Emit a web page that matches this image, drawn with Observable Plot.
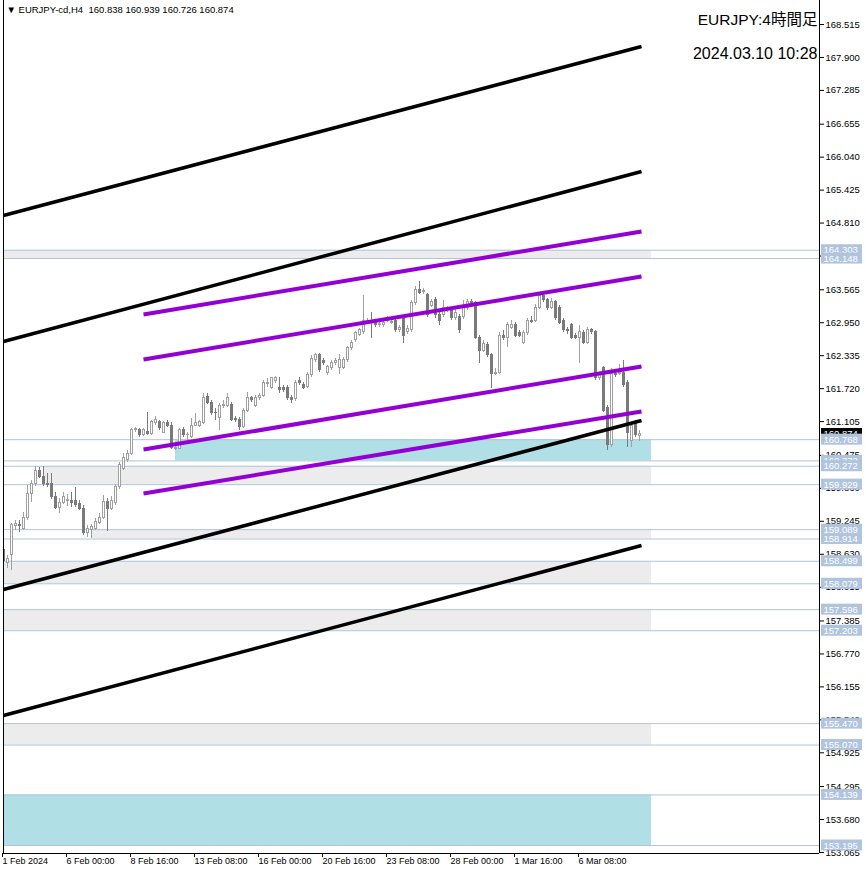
<!DOCTYPE html>
<html><head><meta charset="utf-8">
<script src="https://cdn.jsdelivr.net/npm/d3@7"></script>
<script src="https://cdn.jsdelivr.net/npm/@observablehq/plot@0.6"></script>
<style>html,body{margin:0;padding:0;background:#fff} svg{display:block}</style>
</head><body><div id="chart"></div>
<script>
// ---- data (H4 bars, index 0 = 1 Feb 2024 08:00) ----
const opens = [158.70,158.47,158.61,159.15,159.17,159.11,159.30,159.76,159.95,160.19,160.08,159.95,159.95,159.69,159.50,159.59,159.63,159.63,159.63,159.56,
159.48,159.02,159.09,159.11,159.22,159.31,159.61,159.48,159.58,159.88,160.23,160.38,160.51,160.94,160.94,160.86,160.92,160.88,161.07,161.09,
160.90,161.07,161.03,160.59,160.60,160.94,160.85,160.81,161.03,161.03,161.07,161.57,161.46,161.27,161.18,161.39,161.40,161.42,161.16,161.14,
161.01,161.31,161.54,161.40,161.54,161.59,161.80,161.74,161.87,161.74,161.74,161.74,161.55,161.52,161.87,161.78,161.76,161.97,162.25,162.34,
162.23,162.02,162.10,162.19,162.10,162.11,162.25,162.47,162.62,162.73,162.77,162.95,162.95,162.95,162.90,162.90,162.99,162.95,162.99,162.81,
163.03,162.77,162.81,163.31,163.57,163.53,163.46,163.27,163.37,163.09,163.09,163.18,163.18,163.03,163.05,163.05,163.22,163.33,163.31,162.67,
162.43,162.53,162.34,162.00,162.02,162.71,162.67,162.86,162.90,162.75,162.58,162.75,162.99,162.99,163.23,163.44,163.37,163.23,163.33,163.22,
162.99,162.81,162.90,162.71,162.66,162.75,162.58,162.81,162.77,161.91,162.10,161.35,160.66,162.00,162.00,162.02,161.82,160.75,161.07,160.838];
const highs = [158.79,158.61,159.20,159.26,159.26,159.41,159.91,160.01,160.27,160.25,160.27,160.14,160.14,159.78,159.67,159.78,159.74,159.78,159.88,159.63,
159.54,159.17,159.19,159.30,159.39,159.73,159.67,159.71,159.93,160.34,160.51,160.57,160.98,160.99,160.98,160.98,161.27,161.13,161.20,161.13,
161.11,161.13,161.09,160.66,160.98,160.99,160.90,161.16,161.26,161.13,161.63,161.63,161.50,161.35,161.44,161.50,161.63,161.46,161.20,161.18,
161.35,161.65,161.57,161.59,161.63,161.87,161.91,161.93,161.95,161.93,161.78,161.78,161.59,161.87,161.93,161.83,162.02,162.34,162.38,162.38,
162.28,162.15,162.25,162.28,162.36,162.30,162.51,162.62,162.79,162.84,163.46,163.03,163.14,162.99,162.97,163.01,163.07,163.01,163.03,162.90,
163.09,162.90,163.37,163.63,163.72,163.59,163.50,163.38,163.42,163.14,163.37,163.25,163.23,163.20,163.10,163.37,163.38,163.38,163.35,162.71,
162.62,162.58,162.38,162.10,162.77,162.81,162.95,162.99,162.95,162.81,162.81,163.03,163.07,163.29,163.51,163.50,163.40,163.40,163.37,163.27,
163.03,162.86,162.94,162.75,162.90,162.81,162.86,162.84,162.81,162.02,162.13,161.40,162.10,162.08,162.17,162.25,161.87,161.09,161.13,160.939];
const lows = [158.37,158.37,158.33,159.07,159.03,159.07,159.26,159.59,159.89,160.04,159.89,159.88,159.65,159.46,159.39,159.56,159.52,159.50,159.50,159.45,
158.98,158.94,158.92,159.07,159.19,159.28,159.05,159.45,159.54,159.84,160.19,160.34,160.47,160.90,160.81,160.83,160.85,160.85,161.03,160.94,
160.88,160.99,160.59,160.57,160.59,160.81,160.75,160.79,161.01,160.99,161.05,161.42,161.22,161.13,160.94,161.35,161.37,161.11,161.09,160.94,
160.98,161.27,161.46,161.37,161.50,161.55,161.74,161.70,161.82,161.63,161.65,161.50,161.44,161.48,161.78,161.70,161.72,161.93,162.21,162.02,
162.15,161.97,162.06,162.15,161.98,162.08,162.21,162.43,162.58,162.69,162.73,162.92,162.66,162.86,162.86,162.86,162.95,162.92,162.77,162.77,
162.56,162.73,162.77,163.27,163.48,163.48,163.05,163.23,163.03,162.90,163.05,163.14,162.99,162.99,162.75,163.01,163.18,163.25,162.64,162.19,
162.39,162.30,161.72,161.97,161.98,162.62,162.49,162.82,162.67,162.67,162.54,162.71,162.94,162.95,163.20,163.33,163.18,163.20,162.99,162.92,
162.77,162.73,162.64,162.64,162.19,162.54,162.54,162.73,161.87,161.87,161.27,160.57,160.62,161.93,161.97,161.74,160.62,160.62,160.81,160.726];
const closes = [158.51,158.55,159.17,159.20,159.15,159.31,159.76,159.95,160.19,160.08,159.95,159.93,159.69,159.50,159.59,159.69,159.65,159.59,159.54,159.48,
159.02,159.11,159.13,159.24,159.31,159.61,159.48,159.63,159.88,160.29,160.42,160.51,160.94,160.96,160.85,160.94,160.88,161.09,161.13,160.99,
161.07,161.03,160.62,160.62,160.94,160.85,160.86,161.03,161.07,161.09,161.55,161.46,161.26,161.26,161.40,161.42,161.54,161.14,161.13,161.01,
161.31,161.54,161.50,161.54,161.59,161.82,161.83,161.91,161.91,161.69,161.69,161.54,161.50,161.83,161.83,161.74,161.97,162.28,162.34,162.06,
162.19,162.13,162.19,162.23,162.25,162.25,162.47,162.58,162.75,162.81,162.99,162.99,162.94,162.90,162.92,162.95,163.03,162.97,162.81,162.86,
162.71,162.84,163.31,163.57,163.51,163.55,163.09,163.33,163.09,162.99,163.23,163.20,163.03,163.14,162.81,163.22,163.33,163.31,162.67,162.43,
162.56,162.34,162.00,162.02,162.71,162.66,162.90,162.90,162.71,162.71,162.75,162.99,162.97,163.23,163.44,163.37,163.22,163.33,163.03,162.95,
162.81,162.79,162.67,162.67,162.77,162.58,162.81,162.77,161.91,161.97,161.31,160.66,162.00,161.98,162.02,161.78,160.90,161.03,160.85,160.874];

const xTickBars = [0,16,32,48,64,80,96,112,128,144];
const xTickLabels = ["1 Feb 2024","6 Feb 00:00","8 Feb 16:00","13 Feb 08:00","16 Feb 00:00","20 Feb 16:00","23 Feb 08:00","28 Feb 00:00","1 Mar 16:00","6 Mar 08:00"];
const yTicks = [168.515,167.900,167.285,166.655,166.040,165.425,164.810,164.195,163.565,162.950,162.335,161.720,161.105,160.475,159.860,159.245,158.630,158.015,157.385,156.770,156.155,155.540,154.925,154.295,153.680,153.065];

// horizontal price levels (labelled on the price scale)
const levels = [164.303,164.148,160.768,160.372,160.272,159.929,159.089,158.914,158.499,158.079,157.596,157.203,155.470,155.070,154.139,153.195];

// rectangles (zones)
const zoneLow   = [164.148,160.372,159.929,158.914,158.079,157.203,155.070,153.195];
const zoneHigh  = [164.303,160.768,160.272,159.089,158.499,157.596,155.470,154.139];
const zoneStart = [0,43,10,22,0,0,0,0];
const zoneEnd   = [162,162,162,162,162,162,162,162];
const zoneKind  = ["gray","cyan","gray","gray","gray","gray","gray","cyan"];

// trend lines (bar index, price)
const tlStartBar   = [0,0,0,0,35,35,35,35];
const tlStartPrice = [164.951,162.600,157.972,155.621,163.104,162.264,160.584,159.764];
const tlEndBar     = [159.5,159.5,159.5,159.5,159.5,159.5,159.5,159.5];
const tlEndPrice   = [168.105,165.772,161.125,158.793,164.653,163.813,162.133,161.294];
const tlKind       = ["black","black","black","black","purple","purple","purple","purple"];

const symbolName = "EURJPY-cd,H4";
const titleText = "EURJPY:4時間足";
const stampText = "2024.03.10 10:28";

// ---- build ----
const bars = opens.map((o, i) => ({i, open: o, high: highs[i], low: lows[i], close: closes[i], up: closes[i] >= o}));
const zones = zoneLow.map((l, k) => ({low: l, high: zoneHigh[k], start: zoneStart[k], end: zoneEnd[k], kind: zoneKind[k]}));
const tlines = tlStartBar.map((b, k) => ({x1: b, y1: tlStartPrice[k], x2: tlEndBar[k], y2: tlEndPrice[k], kind: tlKind[k]}));
const last = bars[bars.length - 1];

const zoneColor = {gray: "#ececec", cyan: "#b0e0e6"};
const lineColor = {black: "#000000", purple: "#9400d3"};
const lineWidth = {black: 3.5, purple: 4};
const upColor = "#a0a0a0", downColor = "#7a7a7a";
const xMax = 204;
const fmt = d => d.toFixed(3);

const boxMarks = (vals, fill, color) => [
  Plot.rect(vals, {x1: xMax, x2: xMax, y1: d => d, y2: d => d, insetLeft: 2, insetRight: -43, insetTop: -5.5, insetBottom: -5.5, fill}),
  Plot.text(vals, {x: xMax, y: d => d, text: fmt, textAnchor: "start", dx: 4, fill: color, fontSize: 9.5})
];

const header = "▼ " + symbolName + "\u00a0\u00a0" + [last.open, last.high, last.low, last.close].map(fmt).join(" ");

const chart = Plot.plot({
  width: 866, height: 874,
  marginLeft: 3, marginRight: 47, marginTop: 0, marginBottom: 21,
  x: {domain: [0, xMax]},
  y: {domain: [153.046, 168.963]},
  color: {type: "identity"},
  style: {fontFamily: "'Liberation Sans', Arial, 'Noto Sans CJK JP', sans-serif", fontSize: "9.5px", background: "#fff", color: "#000", overflow: "visible"},
  marks: [
    Plot.rect(zones, {x1: "start", x2: "end", y1: "low", y2: "high", fill: d => zoneColor[d.kind], clip: true}),
    Plot.ruleY(levels, {stroke: "#b0c4de", strokeWidth: 1}),
    Plot.ruleX(bars, {x: "i", y1: "low", y2: "high", stroke: d => d.up ? upColor : downColor, clip: true, shapeRendering: "crispEdges"}),
    Plot.rect(bars, {x1: d => d.i - 0.25, x2: d => d.i + 0.25, y1: "open", y2: "close",
      fill: d => d.up ? "#ffffff" : downColor, stroke: d => d.up ? upColor : downColor, strokeWidth: 1, clip: true, shapeRendering: "crispEdges"}),
    Plot.link(tlines, {x1: "x1", y1: "y1", x2: "x2", y2: "y2", stroke: d => lineColor[d.kind], strokeWidth: d => lineWidth[d.kind], clip: true}),
    Plot.ruleX([0, xMax], {stroke: "#000", strokeWidth: 1}),
    Plot.ruleY([153.046], {stroke: "#000", strokeWidth: 1}),
    Plot.axisY({anchor: "right", ticks: yTicks, tickFormat: fmt, tickSize: 4, tickPadding: 2, label: null, fontSize: 9.5}),
    Plot.axisX({ticks: xTickBars, tickFormat: d => xTickLabels[xTickBars.indexOf(d)], tickSize: 4, tickPadding: 0, textAnchor: "start", dx: -1, label: null, fontSize: 9}),
    ...boxMarks([last.close], "#000000", "#ffffff"),
    ...levels.flatMap(v => boxMarks([v], "#b0c4de", "#ffffff")),
    Plot.text([header], {frameAnchor: "top-left", text: d => d, textAnchor: "start", lineAnchor: "top", dx: 3, dy: 6, fontSize: 9.5, fill: "#000"}),
    Plot.text([titleText], {frameAnchor: "top-right", text: d => d, textAnchor: "end", lineAnchor: "top", dx: -2, dy: 13, fontSize: 15.5, fill: "#000"}),
    Plot.text([stampText], {frameAnchor: "top-right", text: d => d, textAnchor: "end", lineAnchor: "top", dx: -2, dy: 47, fontSize: 16, fill: "#000"})
  ]
});
document.getElementById("chart").appendChild(chart);
</script>
</body></html>
